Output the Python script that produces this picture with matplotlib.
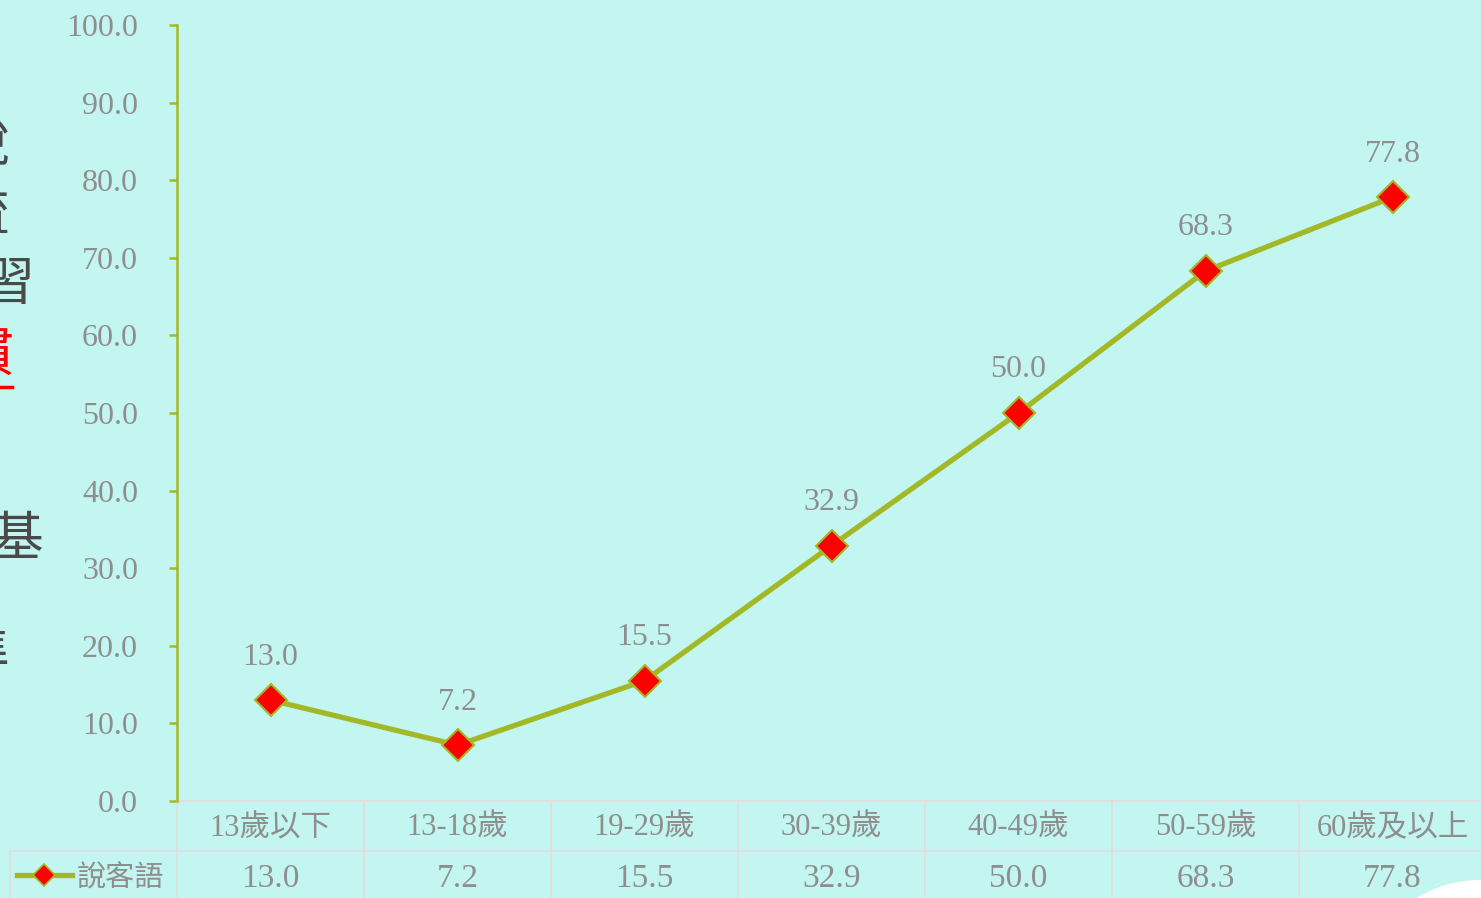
import matplotlib
matplotlib.use("Agg")
import matplotlib.pyplot as plt
from matplotlib.patches import Ellipse
from matplotlib.lines import Line2D

categories = ["13歲以下", "13-18歲", "19-29歲", "30-39歲", "40-49歲", "50-59歲", "60歲及以上"]
values = [13.0, 7.2, 15.5, 32.9, 50.0, 68.3, 77.8]
series_name = "說客語"
yticks = [0, 10, 20, 30, 40, 50, 60, 70, 80, 90, 100]

W, H = 1481, 898
BG = "#C4F6F1"
LINE = "#A3B826"
GRAY = "#8E8E8E"
GRID = "#E2DCDC"
FAM = ["Liberation Serif", "Noto Sans CJK TC", "DejaVu Sans"]

fig = plt.figure(figsize=(W / 100, H / 100), dpi=100, facecolor=BG)

x0, x1 = 177, 1486
ytop, ybot = 25, 801
ax = fig.add_axes([x0 / W, 1 - ybot / H, (x1 - x0) / W, (ybot - ytop) / H])
ax.set_facecolor(BG)
ax.patch.set_alpha(0)
ax.set_xlim(-0.5, len(categories) - 0.5)
ax.set_ylim(0, 100)

xs = list(range(len(categories)))
ax.plot(xs, values, color=LINE, lw=3.8, marker="D", markersize=16,
        markerfacecolor="#FF0000", markeredgecolor=LINE, markeredgewidth=1.5,
        zorder=3, clip_on=False)
for x, v in zip(xs, values):
    ax.annotate(f"{v:.1f}", (x, v), xytext=(0, 31), textcoords="offset points",
                ha="center", va="center", fontsize=23, color=GRAY, family=FAM)

for s in ["top", "right", "bottom"]:
    ax.spines[s].set_visible(False)
ax.spines["left"].set_color(LINE)
ax.spines["left"].set_linewidth(1.8)
ax.set_yticks(yticks)
ax.set_yticklabels([f"{t:.1f}" for t in yticks], family=FAM, fontsize=23, color=GRAY)
ax.tick_params(axis="y", length=6, width=1.8, color=LINE, pad=22)
ax.set_xticks([])

# data table below the axes
rowh = 50 / (ybot - ytop)
tr = ax.get_xaxis_transform()
ax.plot([-0.5, 6.5], [0, 0], transform=tr, color=GRID, lw=1.2, clip_on=False, zorder=1)
ax.add_line(Line2D([(10 - x0) / (x1 - x0), 1], [-rowh, -rowh], transform=ax.transAxes,
                   color=GRID, lw=1.2, clip_on=False))
for i in range(len(categories) + 1):
    ax.plot([i - 0.5, i - 0.5], [0, -2.2 * rowh], transform=tr, color=GRID, lw=1.2,
            clip_on=False)
ax.add_line(Line2D([(10 - x0) / (x1 - x0)] * 2, [-rowh, -2.2 * rowh], transform=ax.transAxes,
                   color=GRID, lw=1.2, clip_on=False))
for i, c in enumerate(categories):
    ax.text(i, -0.55 * rowh, c, transform=tr, ha="center", va="center",
            fontsize=22, color=GRAY, family=FAM)
    ax.text(i, -1.55 * rowh, f"{values[i]:.1f}", transform=tr, ha="center", va="center",
            fontsize=24, color=GRAY, family=FAM)

# legend cell
lx0 = (17 - x0) / (x1 - x0)
lx1 = (72 - x0) / (x1 - x0)
ax.add_line(Line2D([lx0, lx1], [-1.47 * rowh] * 2, transform=ax.transAxes, color=LINE,
                   lw=3.8, clip_on=False))
ax.add_line(Line2D([(lx0 + lx1) / 2], [-1.47 * rowh], transform=ax.transAxes, marker="D",
                   markersize=11, markerfacecolor="#FF0000", markeredgecolor=LINE,
                   markeredgewidth=1.2, clip_on=False))
ax.text((77 - x0) / (x1 - x0), -1.55 * rowh, series_name, transform=ax.transAxes,
        ha="left", va="center", fontsize=21, color=GRAY, family=FAM)

# partially cut slide text on the left edge
side = [(145, "說", 10, "#4A4A4A"), (215, "流", 10, "#4A4A4A"), (285, "習", 34, "#4A4A4A"),
        (355, "慣", 13, "#FF0000"), (540, "基", 43, "#4A4A4A"), (655, "準", 10, "#4A4A4A")]
for yy, ch, xr, col in side:
    fig.text(xr / W, 1 - yy / H, ch, ha="right", va="center", fontsize=38, color=col,
             family=["Noto Sans CJK TC"])
fig.add_artist(Line2D([0, 12 / W], [1 - 387 / H] * 2, color="#FF0000", lw=2.5))

# decorative white shape at bottom right
fig.add_artist(Ellipse((1480 / W, 1 - 1000 / H), 240 / W, 240 / H, facecolor="#FFFFFF",
                       edgecolor="none", transform=fig.transFigure))

fig.savefig("out.png", dpi=100, facecolor=BG)
